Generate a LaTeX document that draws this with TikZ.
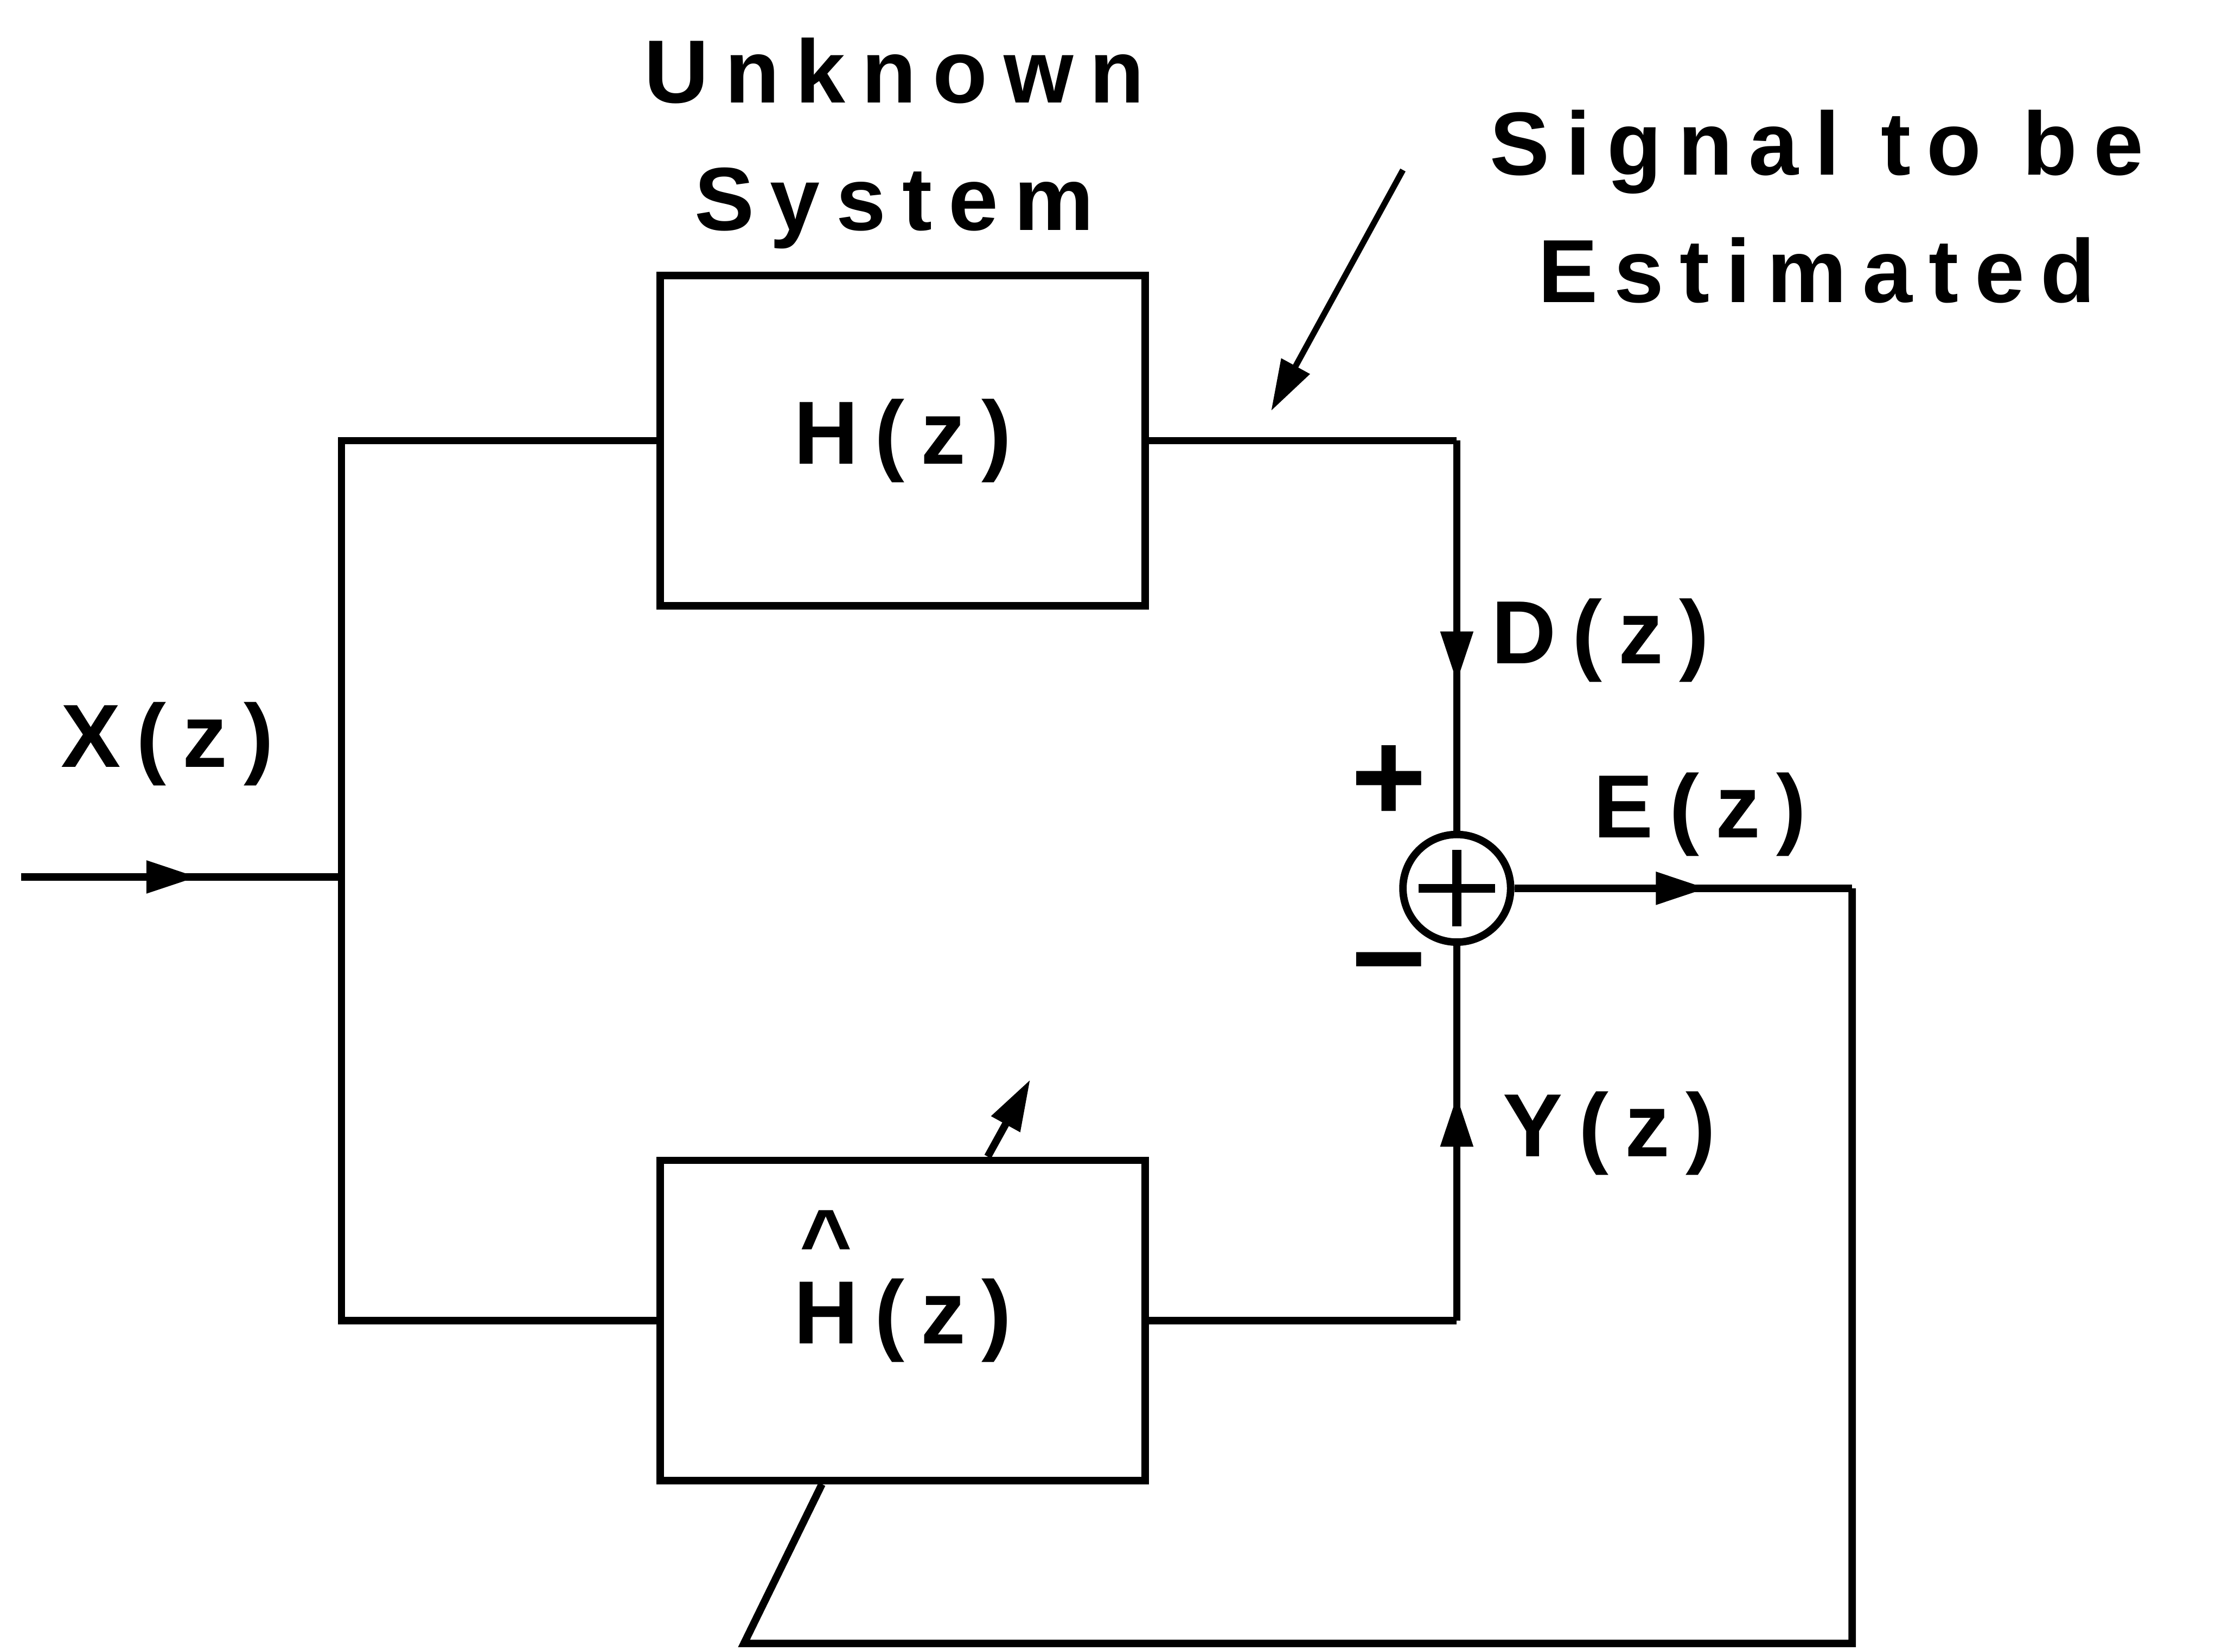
\documentclass[tikz,border=0pt]{standalone}
\usepackage{fontspec}
\setmainfont{Liberation Sans}[LetterSpace=18]
\usetikzlibrary{calc,arrows.meta,decorations.markings}

\begin{document}
\begin{tikzpicture}[>={Triangle[length=3.6mm,width=2.2mm]}, line width=1.5pt,
  blk/.style={draw, minimum width=3.42cm, inner sep=0pt},
  lbl/.style={font=\bfseries\fontsize{18}{25.6}\selectfont, inner sep=0pt},
  sgn/.style={font=\bfseries\fontsize{26}{26}\selectfont, inner sep=0pt},
  midarrow/.style={postaction={decorate},
    decoration={markings, mark=at position #1 with {\arrow{>}}}}]
  \useasboundingbox (0,0) rectangle (15.68,11.66);
  % ------- blocks: unknown system, adaptive model, summer -------
  \node[blk, minimum height=2.33cm, lbl] (h) at (6.37,8.55) {H(z)};
  \node[blk, minimum height=2.26cm, lbl] (hh) at (6.37,2.34)
    {\rlap{\smash{\raisebox{0.8em}{\hspace{0.07em}\textasciicircum}}}H(z)};
  \node[draw, circle, minimum size=0.76cm, inner sep=0pt] (sum) at (10.28,5.39) {};
  \draw[line width=1.8pt] ($(sum)+(-0.27,0)$) -- ($(sum)+(0.27,0)$)
    ($(sum)+(0,-0.27)$) -- ($(sum)+(0,0.27)$);
  % ------- corners of the wiring -------
  \coordinate (xin) at (0.15,5.47);
  \coordinate (split) at (2.41,5.47);
  \coordinate (dcorner) at (sum.north |- h.east);
  \coordinate (ycorner) at (sum.south |- hh.east);
  \coordinate (eout) at (13.07,5.39);
  \coordinate (fbr) at (13.07,0.06);
  \coordinate (fbl) at (5.25,0.06);
  \coordinate (adtip) at (7.27,4.04);
  \coordinate (sigtail) at (9.90,10.46);
  \coordinate (sigtip) at (8.97,8.76);
  % ------- signal paths -------
  \draw[midarrow=0.55] (xin) -- (split);
  \draw (h.west) -| (split) |- (hh.west);
  \draw (h.east) -- (dcorner);
  \draw[midarrow=0.62] (dcorner) -- (sum.north);
  \draw (hh.east) -- (ycorner);
  \draw[midarrow=0.6] (ycorner) -- (sum.south);
  \draw[midarrow=0.57] (sum.east) -- (eout);
  \draw (eout) -- (fbr) -- (fbl) -- ($(hh.south)+(-0.57,0)$);
  \draw[->] ($(hh.north)+(0.6,0)$) -- (adtip);
  \draw[->, line width=1.2pt] (sigtail) -- (sigtip);
  % ------- labels -------
  \node[lbl, align=center] (unk) at (6.31,10.65) {Unknown\\System};
  \node[lbl, align=center] (sig) at (12.82,10.20) {Signal to be\\Estimated};
  \node[lbl] (xl) at (1.18,6.41) {X(z)};
  \node[lbl, anchor=west] (dl) at (10.50,7.14) {D(z)};
  \node[lbl, anchor=west] (el) at (11.22,5.91) {E(z)};
  \node[lbl, anchor=west] (yl) at (10.58,3.66) {Y(z)};
  \node[sgn] (plus) at (9.80,6.13) {+};
  \node[sgn] (minus) at (9.80,4.76) {−};
\end{tikzpicture}
\end{document}
